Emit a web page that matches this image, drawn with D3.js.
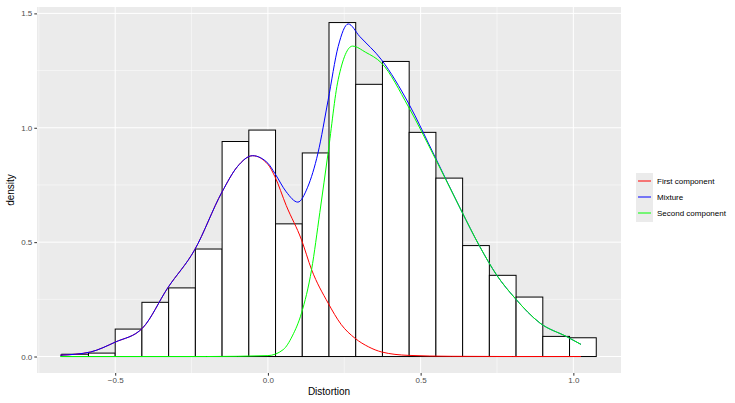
<!DOCTYPE html>
<html><head><meta charset="utf-8">
<script src="https://cdn.jsdelivr.net/npm/d3@7"></script>
<style>body{margin:0;background:#fff;font-family:"Liberation Sans",Arial,sans-serif}</style>
</head><body><svg id="c" width="735" height="403"></svg>
<script>
const binEdges = [-0.675,-0.5875,-0.5,-0.4125,-0.325,-0.2375,-0.15,-0.0625,0.025,0.1125,0.2,0.2875,0.375,0.4625,0.55,0.6375,0.725,0.8125,0.9,0.9875,1.075];
const binDensity = [0.01,0.015,0.12,0.237,0.30,0.47,0.94,0.99,0.58,0.89,1.46,1.19,1.29,0.98,0.78,0.485,0.355,0.26,0.088,0.082];
const firstX = [-0.68,-0.63,-0.58,-0.5,-0.41,-0.328,-0.24,-0.15,-0.1,-0.05,0.0,0.023,0.06,0.11,0.143,0.197,0.24,0.285,0.33,0.372,0.46,0.6,0.8,1.025];
const firstY = [0.006,0.01,0.02,0.063,0.125,0.30,0.466,0.72,0.83,0.878,0.84,0.786,0.66,0.51,0.38,0.234,0.14,0.08,0.042,0.02,0.005,0.001,0,0];
const mixX = [-0.68,-0.63,-0.58,-0.5,-0.41,-0.328,-0.24,-0.15,-0.1,-0.05,0.0,0.023,0.06,0.098,0.13,0.164,0.197,0.23,0.263,0.3,0.372,0.46,0.547,0.632,0.694,0.749,0.809,0.891,0.978,1.025];
const mixY = [0.006,0.01,0.02,0.063,0.125,0.30,0.466,0.72,0.83,0.878,0.845,0.80,0.72,0.675,0.74,0.89,1.12,1.355,1.454,1.40,1.297,1.108,0.873,0.641,0.48,0.356,0.255,0.146,0.087,0.053];
const secX = [-0.68,-0.2,0.0,0.05,0.08,0.11,0.143,0.17,0.197,0.23,0.277,0.32,0.372,0.46,0.547,0.632,0.694,0.749,0.809,0.891,0.978,1.025];
const secY = [0,0,0.004,0.03,0.09,0.19,0.38,0.63,0.89,1.21,1.357,1.33,1.283,1.092,0.868,0.641,0.48,0.356,0.255,0.146,0.087,0.053];
const legendLabels = ["First component","Mixture","Second component"];
const legendColors = ["#ff0000","#0000ff","#00ff00"];
const xTicks = [-0.5,0,0.5,1.0];
const yTicks = [0,0.5,1.0,1.5];

const svg = d3.select("#c");
const L=37,R=621,T=7,B=373;
const x = d3.scaleLinear().domain([-0.756,1.156]).range([L,R]);
const y = d3.scaleLinear().domain([-0.072,1.528]).range([B,T]);
svg.append("rect").attr("x",L).attr("y",T).attr("width",R-L).attr("height",B-T).attr("fill","#ebebeb");
const minorX=[-0.75,-0.25,0.25,0.75], minorY=[0.25,0.75,1.25];
minorX.forEach(v=>svg.append("line").attr("x1",x(v)).attr("x2",x(v)).attr("y1",T).attr("y2",B).attr("stroke","#fff").attr("stroke-width",0.5));
minorY.forEach(v=>svg.append("line").attr("y1",y(v)).attr("y2",y(v)).attr("x1",L).attr("x2",R).attr("stroke","#fff").attr("stroke-width",0.5));
xTicks.forEach(v=>svg.append("line").attr("x1",x(v)).attr("x2",x(v)).attr("y1",T).attr("y2",B).attr("stroke","#fff").attr("stroke-width",1));
yTicks.forEach(v=>svg.append("line").attr("y1",y(v)).attr("y2",y(v)).attr("x1",L).attr("x2",R).attr("stroke","#fff").attr("stroke-width",1));
binDensity.forEach((d,i)=>{
  svg.append("rect").attr("x",x(binEdges[i])).attr("y",y(d)).attr("width",x(binEdges[i+1])-x(binEdges[i])).attr("height",y(0)-y(d))
    .attr("fill","#fff").attr("stroke","#000").attr("stroke-width",1);
});
const line = d3.line().x(d=>x(d[0])).y(d=>y(d[1])).curve(d3.curveMonotoneX);
[[firstX,firstY,"#ff0000"],[mixX,mixY,"#0000ff"],[secX,secY,"#00ff00"]].forEach(([xs,ys,c])=>{
  svg.append("path").attr("d",line(xs.map((v,i)=>[v,ys[i]]))).attr("fill","none").attr("stroke",c).attr("stroke-width",1);
});
const xa = svg.append("g").attr("transform",`translate(0,${B})`).call(d3.axisBottom(x).tickValues(xTicks).tickSize(2.7).tickPadding(2).tickFormat(d3.format(".1f")));
const ya = svg.append("g").attr("transform",`translate(${L},0)`).call(d3.axisLeft(y).tickValues(yTicks).tickSize(2.7).tickPadding(2).tickFormat(d3.format(".1f")));
[xa,ya].forEach(a=>{a.select(".domain").remove();a.selectAll("line").attr("stroke","#333");a.selectAll("text").attr("fill","#4d4d4d").style("font-size","8px").style("font-family","Liberation Sans, Arial, sans-serif");});
xa.selectAll("text").text(d=>d<0?"\u2212"+Math.abs(d).toFixed(1):d.toFixed(1));
svg.append("text").attr("x",(L+R)/2).attr("y",395).attr("text-anchor","middle").style("font-size","10px").text("Distortion");
svg.append("text").attr("transform",`translate(14,${(T+B)/2}) rotate(-90)`).attr("text-anchor","middle").style("font-size","10px").text("density");
svg.append("rect").attr("x",636).attr("y",173).attr("width",17).attr("height",49).attr("fill","#ebebeb");
legendLabels.forEach((l,i)=>{
  const yy=181+i*16;
  svg.append("line").attr("x1",638).attr("x2",651).attr("y1",yy).attr("y2",yy).attr("stroke",legendColors[i]).attr("stroke-width",1);
  svg.append("text").attr("x",657).attr("y",yy+3).style("font-size","8px").attr("fill","#000").text(l);
});
</script></body></html>
